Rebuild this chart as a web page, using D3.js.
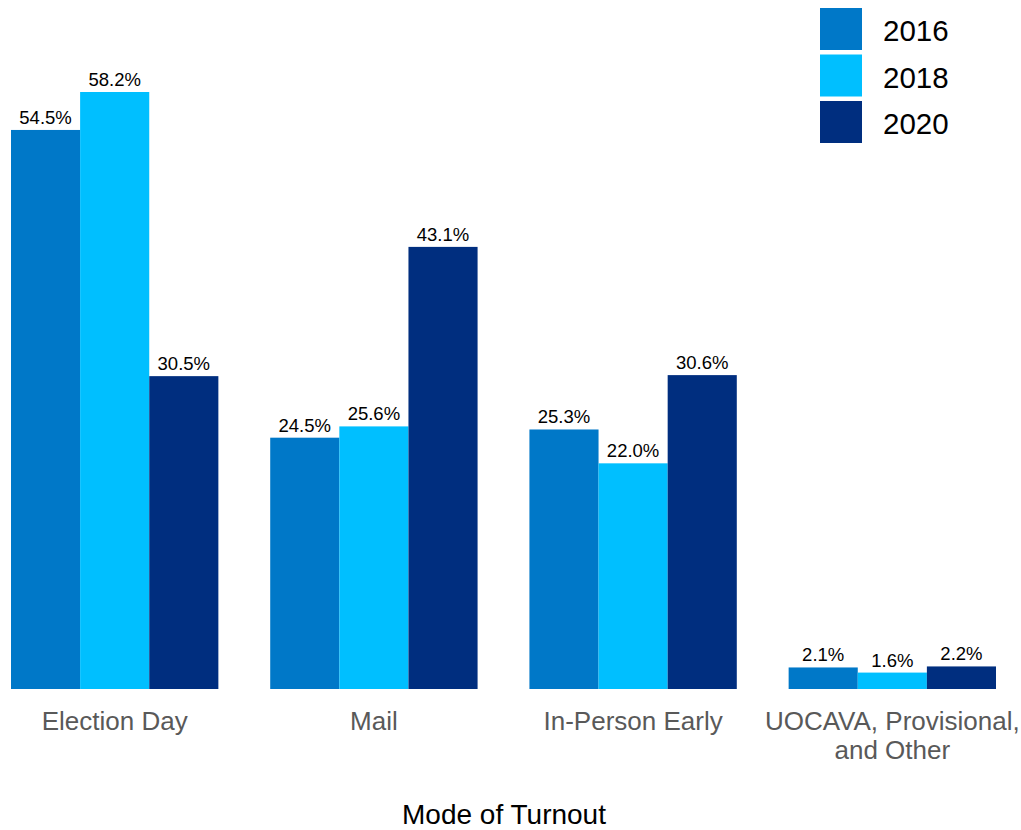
<!DOCTYPE html>
<html><head><meta charset="utf-8">
<script src="https://cdn.jsdelivr.net/npm/d3@7"></script>
<style>body{margin:0;background:#fff}svg{display:block}</style>
</head><body>
<script>
const categories = ["Election Day", "Mail", "In-Person Early", "UOCAVA, Provisional, and Other"];
const categoryLines = [["Election Day"], ["Mail"], ["In-Person Early"], ["UOCAVA, Provisional,", "and Other"]];
const years = ["2016", "2018", "2020"];
const values2016 = [54.5, 24.5, 25.3, 2.1];
const values2018 = [58.2, 25.6, 22.0, 1.6];
const values2020 = [30.5, 43.1, 30.6, 2.2];
const colors = ["#0078c8", "#00bfff", "#002e7f"];
const axisTitle = "Mode of Turnout";

const W = 1021, H = 830;
const FONT = "Liberation Sans, Arial, sans-serif";
const series = [values2016, values2018, values2020];
const svg = d3.select("body").append("svg").attr("width", W).attr("height", H);

const x0 = d3.scaleBand().domain(categories).range([11, 996]).paddingInner(0.2).paddingOuter(0);
const x1 = d3.scaleBand().domain(years).range([0, x0.bandwidth()]).padding(0);
const y = d3.scaleLinear().domain([0, 58.2]).range([689, 92]);

const g = svg.append("g");
categories.forEach((c, ci) => {
  years.forEach((yr, si) => {
    const v = series[si][ci];
    const bx = x0(c) + x1(yr);
    g.append("rect").attr("x", bx).attr("y", y(v)).attr("width", x1.bandwidth()).attr("height", y(0) - y(v)).attr("fill", colors[si]);
    g.append("text").attr("x", bx + x1.bandwidth() / 2).attr("y", y(v) - 6)
      .attr("text-anchor", "middle").attr("font-family", FONT)
      .attr("font-size", 18.5).attr("fill", "#000").text(v.toFixed(1) + "%");
  });
  const t = g.append("text").attr("text-anchor", "middle").attr("font-family", FONT)
    .attr("font-size", 26).attr("fill", "#595959");
  categoryLines[ci].forEach((ln, li) => {
    t.append("tspan").attr("x", x0(c) + x0.bandwidth() / 2).attr("y", 730 + li * 29).text(ln);
  });
});

svg.append("text").attr("x", 504).attr("y", 824).attr("text-anchor", "middle")
  .attr("font-family", FONT).attr("font-size", 28).attr("fill", "#000").text(axisTitle);

const leg = svg.append("g");
years.forEach((yr, i) => {
  leg.append("rect").attr("x", 820).attr("y", 8 + i * 46.5).attr("width", 42).attr("height", 42).attr("fill", colors[i]);
  leg.append("text").attr("x", 883).attr("y", 41 + i * 46.5).attr("font-family", FONT)
    .attr("font-size", 29.5).attr("fill", "#000").text(yr);
});
</script>
</body></html>
